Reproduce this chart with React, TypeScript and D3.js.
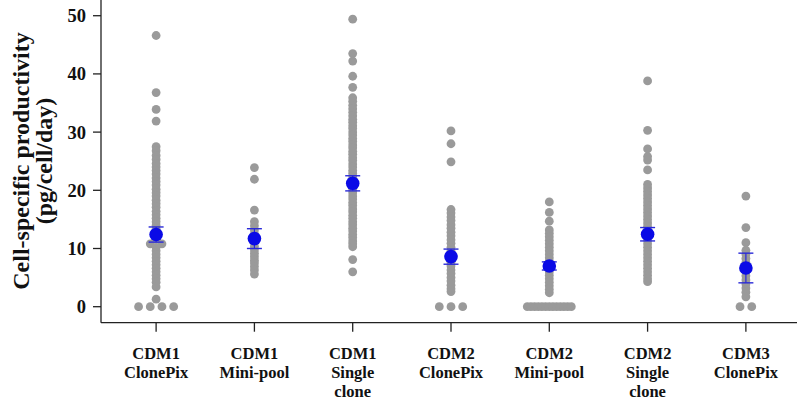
import React from "react";
import * as d3 from "d3";

const categories = [
  "CDM1 ClonePix",
  "CDM1 Mini-pool",
  "CDM1 Single clone",
  "CDM2 ClonePix",
  "CDM2 Mini-pool",
  "CDM2 Single clone",
  "CDM3 ClonePix",
];

const labelLines = [
  ["CDM1", "ClonePix"],
  ["CDM1", "Mini-pool"],
  ["CDM1", "Single", "clone"],
  ["CDM2", "ClonePix"],
  ["CDM2", "Mini-pool"],
  ["CDM2", "Single", "clone"],
  ["CDM3", "ClonePix"],
];

const yTicks = [0, 10, 20, 30, 40, 50];

const cdm1ClonePix = [
  46.6, 36.8, 33.9, 31.9, 27.5, 26.8, 26.0, 25.3, 24.6, 24.0, 23.4, 22.8, 22.1, 21.5,
  20.9, 20.2, 19.6, 19.0, 18.3, 17.7, 17.1, 16.4, 15.8, 15.2, 14.6, 14.0, 13.4, 12.8,
  12.2, 11.6, 10.8, 10.8, 10.2, 9.6, 9.0, 8.4, 7.8, 7.2, 6.6, 6.0, 5.4, 4.8, 4.2, 3.4,
  1.3, 0, 0, 0, 0,
];
const cdm1MiniPool = [
  23.9, 21.9, 16.6, 14.6, 13.9, 13.2, 12.5, 11.8, 11.1, 10.4, 9.8, 9.2, 8.6, 8.0, 7.5,
  6.9, 6.3, 5.6,
];
const cdm1Single = [
  49.4, 43.5, 42.2, 39.6, 37.7, 35.9, 35.3, 34.6, 34.0, 33.4, 32.8, 32.2, 31.7, 31.1,
  30.6, 30.0, 29.5, 28.9, 28.4, 27.8, 27.3, 26.7, 26.2, 25.6, 25.1, 24.5, 24.0, 23.4,
  22.9, 22.3, 21.8, 21.2, 20.7, 20.1, 19.6, 19.0, 18.5, 17.9, 17.4, 16.8, 16.3, 15.7,
  15.2, 14.6, 14.1, 13.5, 13.0, 12.4, 11.9, 11.3, 10.8, 10.3, 8.1, 6.0,
];
const cdm2ClonePix = [
  30.2, 28.0, 24.9, 16.7, 16.1, 15.4, 14.8, 14.1, 13.5, 12.8, 12.2, 11.5, 10.9, 10.2,
  9.6, 8.9, 8.3, 7.6, 7.0, 6.3, 5.7, 5.0, 4.4, 3.7, 3.1, 2.6, 0, 0, 0,
];
const cdm2MiniPool = [
  18.0, 16.2, 14.7, 13.2, 12.6, 12.0, 11.4, 10.8, 10.2, 9.6, 9.0, 8.4, 7.8, 7.2, 6.6,
  6.0, 5.4, 4.8, 4.2, 3.6, 3.0, 2.4, 0, 0, 0, 0, 0, 0, 0, 0, 0, 0, 0, 0, 0,
];
const cdm2Single = [
  38.8, 30.3, 27.1, 25.8, 25.2, 23.5, 21.0, 20.4, 19.8, 19.2, 18.6, 18.0, 17.4, 16.8,
  16.2, 15.6, 15.0, 14.4, 13.8, 13.2, 12.6, 12.0, 11.4, 10.8, 10.2, 9.6, 9.0, 8.4, 7.8,
  7.2, 6.6, 6.0, 5.4, 4.8, 4.3,
];
const cdm3ClonePix = [
  19.0, 13.6, 11.0, 9.7, 9.0, 8.3, 7.6, 6.9, 6.0, 5.3, 4.6, 3.9, 3.2, 2.5, 1.7, 0, 0,
];

const groupValues = [
  cdm1ClonePix,
  cdm1MiniPool,
  cdm1Single,
  cdm2ClonePix,
  cdm2MiniPool,
  cdm2Single,
  cdm3ClonePix,
];

const means = [12.4, 11.7, 21.2, 8.6, 7.0, 12.45, 6.65];
const sems = [1.3, 1.7, 1.3, 1.3, 0.7, 1.15, 2.55];

const W = 797;
const H = 408;
const FONT = "'Liberation Serif', 'Times New Roman', serif";

export default function App() {
  const x = d3.scalePoint<string>().domain(categories).range([105, 797]).padding(0.52);
  const y = d3.scaleLinear().domain([-2.75, 52.7]).range([322.7, 0]);
  const axisLeft = 101;
  const axisBottom = 322.7;

  const dots: { cx: number; cy: number; key: string }[] = [];
  groupValues.forEach((vals, gi) => {
    const cat = categories[gi];
    const groups = d3.group(vals, (v) => v.toFixed(2));
    groups.forEach((arr, k) => {
      const n = arr.length;
      const maxSpan = 44;
      const spacing = n > 1 ? Math.min(11.7, maxSpan / (n - 1)) : 0;
      arr.forEach((v, i) => {
        const off = (i - (n - 1) / 2) * spacing;
        dots.push({ cx: (x(cat) as number) + off, cy: y(v), key: `${gi}-${k}-${i}` });
      });
    });
  });

  return (
    <svg
      width={W}
      height={H}
      style={{ position: "absolute", left: 0, top: 0, background: "#fff" }}
      fontFamily={FONT}
    >
      <rect x={0} y={0} width={W} height={H} fill="#fff" />
      {/* axes */}
      <line x1={axisLeft} x2={axisLeft} y1={0} y2={axisBottom} stroke="#222" strokeWidth={1.3} />
      <line x1={axisLeft} x2={W} y1={axisBottom} y2={axisBottom} stroke="#222" strokeWidth={1.3} />
      {yTicks.map((t) => (
        <g key={t}>
          <line x1={93} x2={axisLeft} y1={y(t)} y2={y(t)} stroke="#222" strokeWidth={1.3} />
          <text
            x={86}
            y={y(t)}
            dy="0.35em"
            textAnchor="end"
            fontSize={18.5}
            fontWeight="bold"
            fill="#111"
          >
            {t}
          </text>
        </g>
      ))}
      {categories.map((c, i) => (
        <g key={c}>
          <line
            x1={x(c) as number}
            x2={x(c) as number}
            y1={axisBottom}
            y2={axisBottom + 9}
            stroke="#222"
            strokeWidth={1.3}
          />
          {labelLines[i].map((ln, j) => (
            <text
              key={j}
              x={x(c) as number}
              y={358.5 + j * 19}
              textAnchor="middle"
              fontSize={16.5}
              fontWeight="bold"
              fill="#111"
            >
              {ln}
            </text>
          ))}
        </g>
      ))}
      {/* y title */}
      <text
        transform={`translate(29,161) rotate(-90)`}
        textAnchor="middle"
        fontSize={24}
        fontWeight="bold"
        fill="#111"
      >
        Cell-specific productivity
      </text>
      <text
        transform={`translate(52,161) rotate(-90)`}
        textAnchor="middle"
        fontSize={24}
        fontWeight="bold"
        fill="#111"
      >
        (pg/cell/day)
      </text>
      {/* dots */}
      {dots.map((d) => (
        <circle key={d.key} cx={d.cx} cy={d.cy} r={4.4} fill="#9a9a9a" />
      ))}
      {/* mean and error bars */}
      {categories.map((c, i) => {
        const cx = x(c) as number;
        const top = y(means[i] + sems[i]);
        const bot = y(means[i] - sems[i]);
        return (
          <g key={c + "m"}>
            <line x1={cx} x2={cx} y1={top} y2={bot} stroke="#2a2ad8" strokeWidth={1.2} />
            <line x1={cx - 7.5} x2={cx + 7.5} y1={top} y2={top} stroke="#2a2ad8" strokeWidth={1.4} />
            <line x1={cx - 7.5} x2={cx + 7.5} y1={bot} y2={bot} stroke="#2a2ad8" strokeWidth={1.4} />
            <circle cx={cx} cy={y(means[i])} r={6.8} fill="#0a0ae6" />
          </g>
        );
      })}
    </svg>
  );
}
